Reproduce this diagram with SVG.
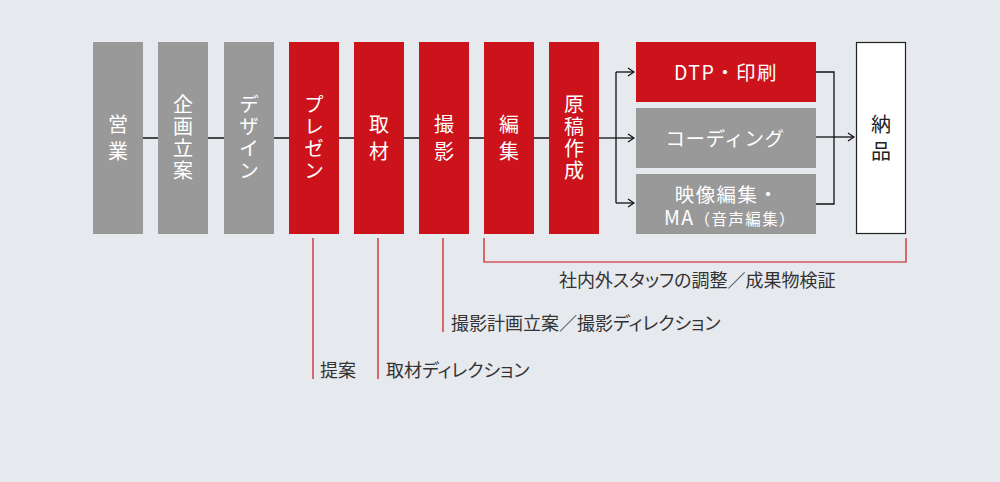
<svg xmlns="http://www.w3.org/2000/svg" width="1000" height="482" viewBox="0 0 1000 482">
<defs>
<style>
.bg{fill:#e6e9ed}
.red{fill:#cc131c}
.gray{fill:#999999}
.white{fill:#ffffff;stroke:#222;stroke-width:1.2}
.vt{font-family:"Noto Sans CJK JP","Noto Sans",sans-serif;font-size:20px;fill:#ffffff;text-anchor:middle;writing-mode:vertical-rl}
.v2{letter-spacing:7px}
.v4{letter-spacing:2.2px}
.ht{font-family:"Noto Sans CJK JP","Noto Sans",sans-serif;font-size:19.5px;fill:#ffffff;text-anchor:middle;letter-spacing:1.4px}
.dk{fill:#222}
.lb{font-family:"Noto Sans CJK JP","Noto Sans",sans-serif;font-size:18px;fill:#333;font-feature-settings:"palt"}
.con{fill:none;stroke:#111;stroke-width:1.3}
.rl{fill:none;stroke:#cc131c;stroke-width:1.2}
</style>
<marker id="arr" viewBox="0 0 10 10" refX="9" refY="5" markerWidth="10" markerHeight="10" markerUnits="userSpaceOnUse" orient="auto">
<path d="M3,1 L9,5 L3,9" fill="none" stroke="#111" stroke-width="1.3"/>
</marker>
</defs>
<rect class="bg" x="0" y="0" width="1000" height="482"/>

<g id="connectors">
<line class="con" x1="93" y1="138" x2="599" y2="138"/>
<path class="con" d="M599,138 H616"/>
<path class="con" d="M616,72 V203"/>
<path class="con" d="M616,72 H634" marker-end="url(#arr)"/>
<path class="con" d="M616,138 H634" marker-end="url(#arr)"/>
<path class="con" d="M616,203 H634" marker-end="url(#arr)"/>
<path class="con" d="M816,72 H834 V204 H816"/>
<path class="con" d="M816,137 H834"/>
<path class="con" d="M834,137 H854" marker-end="url(#arr)"/>
<path class="rl" d="M313,238 V379"/>
<path class="rl" d="M378,238 V379"/>
<path class="rl" d="M443,238 V332"/>
<path class="rl" d="M484,238 V262 H906 V238"/>
</g>

<g id="n-eigyo">
<rect class="gray" x="93" y="42" width="50" height="192"/>
<text class="vt v2" x="118" y="141">営業</text>
</g>
<g id="n-kikaku">
<rect class="gray" x="158" y="42" width="50" height="192"/>
<text class="vt v4" x="183" y="138.6">企画立案</text>
</g>
<g id="n-design">
<rect class="gray" x="224" y="42" width="50" height="192"/>
<text class="vt v4" x="249" y="138.6">デザイン</text>
</g>
<g id="n-presen">
<rect class="red" x="289" y="42" width="50" height="192"/>
<text class="vt v4" x="314" y="138.6">プレゼン</text>
</g>
<g id="n-shuzai">
<rect class="red" x="354" y="42" width="50" height="192"/>
<text class="vt v2" x="379" y="141">取材</text>
</g>
<g id="n-satsuei">
<rect class="red" x="419" y="42" width="50" height="192"/>
<text class="vt v2" x="444" y="141">撮影</text>
</g>
<g id="n-henshu">
<rect class="red" x="484" y="42" width="50" height="192"/>
<text class="vt v2" x="509" y="141">編集</text>
</g>
<g id="n-genko">
<rect class="red" x="549" y="42" width="50" height="192"/>
<text class="vt v4" x="574" y="138.6">原稿作成</text>
</g>
<g id="n-dtp">
<rect class="red" x="636" y="42" width="180" height="60"/>
<text class="ht" x="726" y="80">DTP・印刷</text>
</g>
<g id="n-coding">
<rect class="gray" x="636" y="108" width="180" height="60"/>
<text class="ht" x="725" y="145.5" style="letter-spacing:0.6px">コーディング</text>
</g>
<g id="n-video">
<rect class="gray" x="636" y="174" width="180" height="60"/>
<text class="ht"><tspan x="727" y="201.5">映像編集・</tspan><tspan x="730" y="225">MA</tspan><tspan font-size="15.5px">（音声編集）</tspan></text>
</g>
<g id="n-nouhin">
<rect class="white" x="856.5" y="42.5" width="49" height="191"/>
<text class="vt v2 dk" x="881" y="141">納品</text>
</g>

<g id="labels">
<text class="lb" x="559" y="287">社内外スタッフの調整／成果物検証</text>
<text class="lb" x="451" y="330">撮影計画立案／撮影ディレクション</text>
<text class="lb" x="320" y="377">提案</text>
<text class="lb" x="386" y="377">取材ディレクション</text>
</g>
</svg>
